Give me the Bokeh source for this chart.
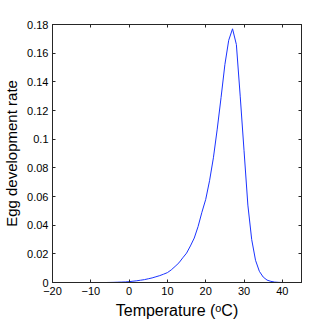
from bokeh.plotting import figure
from bokeh.models import LinearAxis, FixedTicker, Range1d
from bokeh.embed import file_html
from bokeh.resources import INLINE

temperature = list(range(-20, 46))
rate = [0.0] * 15 + [
    0.00005,                                   # -5
    0.0001, 0.0002, 0.0003, 0.0004,            # -4..-1
    0.0006, 0.0009, 0.0012, 0.0016, 0.0020,    # 0..4
    0.0026, 0.0032, 0.0040, 0.0048, 0.0058,    # 5..9
    0.0069, 0.0088, 0.0112, 0.0137, 0.0172,    # 10..14
    0.0205, 0.0255, 0.0310, 0.0390, 0.0490,    # 15..19
    0.0580, 0.0710, 0.0870, 0.1070, 0.1290,    # 20..24
    0.1520, 0.1690, 0.1770, 0.1660, 0.1300,    # 25..29
    0.0920, 0.0540, 0.0300, 0.0155, 0.0078,    # 30..34
    0.0038, 0.0017, 0.0008, 0.0003, 0.0001,    # 35..39
    0.0,                                       # 40
] + [0.0] * 5

x_ticks = [-20, -10, 0, 10, 20, 30, 40]
x_tick_labels = ["\u221220", "\u221210", "0", "10", "20", "30", "40"]
y_ticks = [0, 0.02, 0.04, 0.06, 0.08, 0.1, 0.12, 0.14, 0.16, 0.18]
y_tick_labels = ["0", "0.02", "0.04", "0.06", "0.08", "0.1", "0.12", "0.14", "0.16", "0.18"]

x_label = "Temperature (\u1d52C)"
y_label = "Egg development rate"

FONT = "Liberation Sans"
AX = "#262626"

p = figure(width=325, height=322, output_backend="svg", toolbar_location=None,
           x_range=Range1d(-20, 45), y_range=Range1d(0, 0.18),
           min_border_left=52, min_border_top=24, min_border_right=24, min_border_bottom=40)

p.line(temperature, rate, line_color="#1a33ff", line_width=1)

p.xgrid.visible = False
p.ygrid.visible = False
p.outline_line_color = AX
p.outline_line_width = 1
p.outline_line_alpha = 1
p.background_fill_color = "white"
p.border_fill_color = "white"

def style(ax, ticks, labels, show_labels):
    ax.ticker = FixedTicker(ticks=ticks)
    ax.major_tick_in = 3
    ax.major_tick_out = 0
    ax.minor_tick_line_color = None
    ax.major_tick_line_color = AX
    ax.axis_line_color = AX
    ax.major_label_text_font = FONT
    ax.major_label_text_font_size = "11px"
    ax.major_label_standoff = 4
    if show_labels:
        ax.major_label_overrides = {t: l for t, l in zip(ticks, labels)}
        ax.major_label_text_color = "black"
    else:
        ax.major_label_overrides = {t: "" for t in ticks}
        ax.major_label_text_color = None
        ax.major_label_standoff = 0
    ax.axis_label_text_font = FONT
    ax.axis_label_text_font_style = "normal"
    ax.axis_label_text_font_size = "16px"
    ax.axis_label_text_color = "black"
    ax.axis_label_standoff = 4

style(p.xaxis[0], x_ticks, x_tick_labels, True)
style(p.yaxis[0], y_ticks, y_tick_labels, True)
p.xaxis[0].axis_label = x_label
p.yaxis[0].axis_label = y_label
p.yaxis[0].axis_label_text_font_size = "15px"

top = LinearAxis()
style(top, x_ticks, x_tick_labels, False)
p.add_layout(top, "above")
right = LinearAxis()
style(right, y_ticks, y_tick_labels, False)
p.add_layout(right, "right")

open("out.html", "w").write(file_html(p, INLINE))
